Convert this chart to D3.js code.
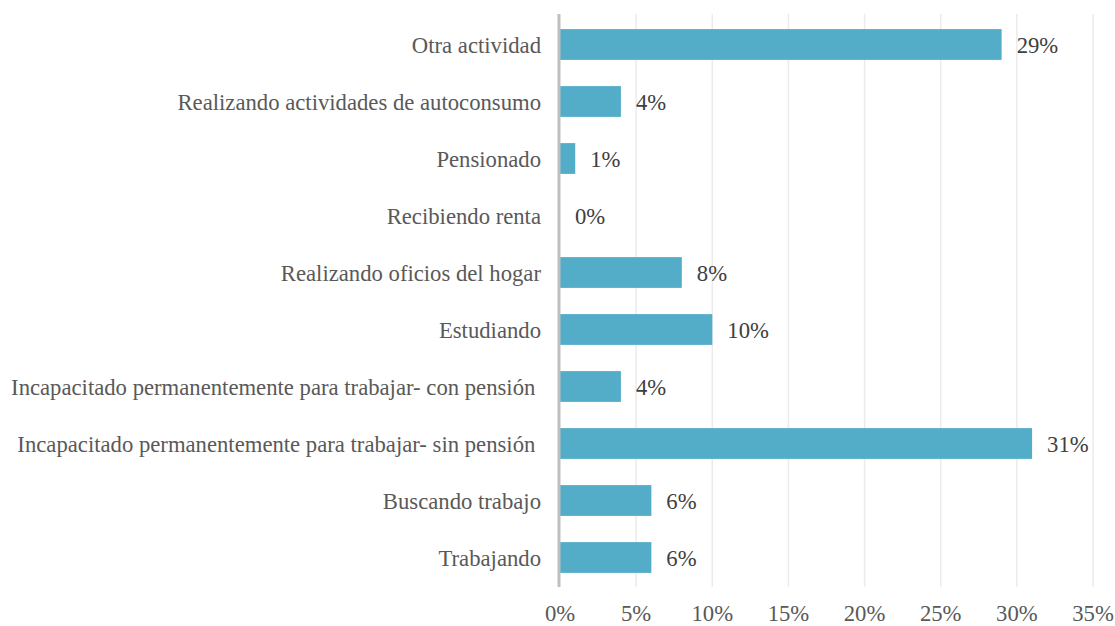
<!DOCTYPE html>
<html>
<head>
<meta charset="utf-8">
<script src="https://cdn.jsdelivr.net/npm/d3@7"></script>
<style>
body { margin: 0; background: #fff; }
</style>
</head>
<body>
<div id="chart"></div>
<script>
// categories, top to bottom
var categories = ["Otra actividad", "Realizando actividades de autoconsumo", "Pensionado", "Recibiendo renta", "Realizando oficios del hogar", "Estudiando", "Incapacitado permanentemente para trabajar- con pensión\u00a0", "Incapacitado permanentemente para trabajar- sin pensión\u00a0", "Buscando trabajo", "Trabajando"]
var values = [29, 4, 1, 0, 8, 10, 4, 31, 6, 6]
var ticks = [0, 5, 10, 15, 20, 25, 30, 35]

var W = 1115, H = 626
var margin = { top: 16, bottom: 40, left: 560, right: 22 }
var font = "'Liberation Serif'"
var fontSize = "22.7px"
var svg = d3.select("#chart").append("svg").attr("width", W).attr("height", H)

var x = d3.scaleLinear().domain([0, 35]).range([margin.left, W - margin.right])
var y = d3.scaleBand().domain(categories).range([margin.top, H - margin.bottom]).paddingInner(0.46).paddingOuter(0.23)

// gridlines
svg.append("g").selectAll("line").data(ticks.slice(1)).enter().append("line")
    .attr("x1", function(d) { return x(d) }).attr("x2", function(d) { return x(d) })
    .attr("y1", margin.top - 2).attr("y2", H - margin.bottom + 1)
    .style("stroke", "#ebebeb").style("stroke-width", 1.5)

// bars
svg.append("g").selectAll("rect").data(values).enter().append("rect")
    .attr("x", x(0))
    .attr("y", function(d, i) { return y(categories[i]) })
    .attr("width", function(d) { return x(d) - x(0) })
    .attr("height", y.bandwidth())
    .style("fill", "#53adc9")

// value labels
svg.append("g").selectAll("text").data(values).enter().append("text")
    .attr("x", function(d) { return x(d) + 15 })
    .attr("y", function(d, i) { return y(categories[i]) + y.bandwidth() / 2 })
    .attr("dy", 8)
    .style("font-family", font).style("font-size", fontSize).style("fill", "#404040")
    .text(function(d) { return d + "%" })

// category labels
svg.append("g").selectAll("text").data(categories).enter().append("text")
    .attr("x", 541)
    .attr("y", function(d) { return y(d) + y.bandwidth() / 2 })
    .attr("dy", 8)
    .attr("text-anchor", "end")
    .style("font-family", font).style("font-size", fontSize).style("fill", "#595959")
    .text(function(d) { return d })

// y axis line
svg.append("line")
    .attr("x1", x(0) - 1).attr("x2", x(0) - 1)
    .attr("y1", margin.top - 2).attr("y2", H - margin.bottom + 1)
    .style("stroke", "#bfbfbf").style("stroke-width", 3)

// x tick labels
svg.append("g").selectAll("text").data(ticks).enter().append("text")
    .attr("x", function(d) { return x(d) })
    .attr("y", 621)
    .attr("text-anchor", "middle")
    .style("font-family", font).style("font-size", fontSize).style("fill", "#595959")
    .text(function(d) { return d + "%" })
</script>
</body>
</html>
